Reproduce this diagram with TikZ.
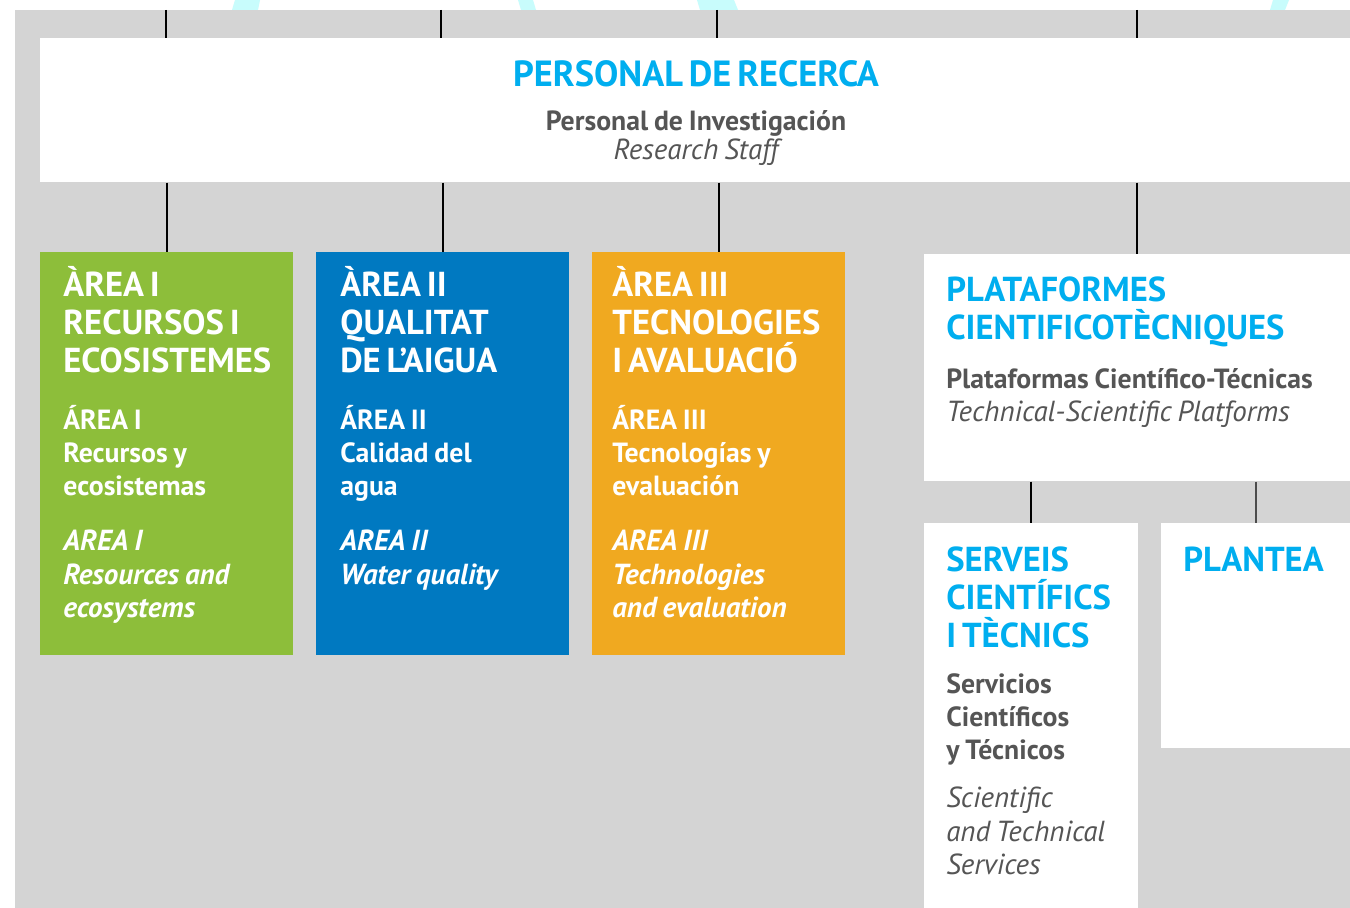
\documentclass[tikz,border=0pt]{standalone}
\usepackage{fontspec}
\setmainfont{PT Sans}
\usepackage{tikz}
\usetikzlibrary{positioning}

\definecolor{fonsgris}{HTML}{D4D4D4}
\definecolor{verdarea}{HTML}{8DBE3A}
\definecolor{blauarea}{HTML}{0079C1}
\definecolor{taronjarea}{HTML}{F0A920}
\definecolor{cian}{HTML}{00AEEF}
\definecolor{cianpal}{HTML}{C8FCFC}
\definecolor{textgris}{HTML}{555555}

\newcommand{\titolfont}{\fontsize{20.7}{22}\selectfont\bfseries}
\newcommand{\capfont}{\fontsize{19.7}{21.5}\selectfont\bfseries}
\newcommand{\subfont}{\fontsize{15.8}{18.7}\selectfont\bfseries}
\newcommand{\engfont}{\fontsize{16.5}{19.2}\selectfont\bfseries\itshape}
\newcommand{\itfont}{\fontsize{16.5}{19}\selectfont\itshape}

\begin{document}
\begin{tikzpicture}[x=0.02cm, y=-0.02cm,
  areabox/.style={rectangle, inner sep=0pt, anchor=north west, minimum width=5.06cm, minimum height=8.06cm},
  whitebox/.style={rectangle, fill=white, inner sep=0pt, anchor=north west},
  boxtext/.style={anchor=base west, inner sep=0pt, text width=#1, align=left},
  link/.style={line width=1pt, black}]
\useasboundingbox (0,0) rectangle (1350,908);
% Fons
\fill[white] (0,0) rectangle (1350,908);
\fill[cianpal] (235,0) -- (260,0) -- (258,10) -- (232,10) -- cycle;
\fill[cianpal] (518,0) -- (533,0) -- (536,10) -- (521,10) -- cycle;
\fill[cianpal] (697,0) -- (734,0) -- (738,10) -- (700,10) -- cycle;
\fill[cianpal] (1273,0) -- (1289,0) -- (1285,10) -- (1270,10) -- cycle;
\fill[fonsgris] (15,10) rectangle (1350,908);

% Personal de recerca
\node[whitebox, minimum width=26.2cm, minimum height=2.88cm] (banner) at (40,38) {};
\node[anchor=base, inner sep=0pt, text width=9cm, align=center] (bannertext) at (696,87)
  {{\titolfont\color{cian} PERSONAL DE RECERCA\par}\vspace{6.2pt}
   {\subfont\color{textgris} Personal de Investigación\par}
   {\fontsize{16.5}{16.4}\selectfont\itshape\color{textgris} Research Staff\par}};

% Arees
\node[areabox, fill=verdarea] (area1) at (40,252) {};
\node[areabox, fill=blauarea] (area2) at (316,252) {};
\node[areabox, fill=taronjarea] (area3) at (592,252) {};
\node[boxtext=4.6cm, text=white] (area1text) at (63,297)
  {{\capfont ÀREA I\\RECURSOS I\\ECOSISTEMES\par}\vspace{14pt}
   {\subfont ÁREA I\\Recursos y\\ecosistemas\par}\vspace{12pt}
   {\engfont AREA I\\Resources and\\ecosystems\par}};
\node[boxtext=4.6cm, text=white] (area2text) at (340,297)
  {{\capfont ÀREA II\\QUALITAT\\DE L’AIGUA\par}\vspace{14pt}
   {\subfont ÁREA II\\Calidad del\\agua\par}\vspace{12pt}
   {\engfont AREA II\\Water quality\par}};
\node[boxtext=4.6cm, text=white] (area3text) at (612,297)
  {{\capfont ÀREA III\\TECNOLOGIES\\I AVALUACIÓ\par}\vspace{14pt}
   {\subfont ÁREA III\\Tecnologías y\\evaluación\par}\vspace{12pt}
   {\engfont AREA III\\Technologies\\and evaluation\par}};

% Plataformes
\node[whitebox, minimum width=8.52cm, minimum height=4.54cm] (plataformes) at (924,254) {};
\node[boxtext=8cm] (plataformestext) at (946,302)
  {{\capfont\color{cian} PLATAFORMES\\CIENTIFICOTÈCNIQUES\par}\vspace{9.3pt}
   {\subfont\color{textgris} Plataformas Científico-Técnicas\par}
   {\fontsize{16.5}{18.6}\selectfont\itshape\color{textgris} Technical-Scientific Platforms\par}};
\node[whitebox, minimum width=4.28cm, minimum height=7.7cm] (serveis) at (924,523) {};
\node[boxtext=3.9cm] (serveistext) at (946,572)
  {{\capfont\color{cian} SERVEIS\\CIENTÍFICS\\I TÈCNICS\par}\vspace{7.6pt}
   {\subfont\color{textgris} Servicios\\Científicos\\y Técnicos\par}\vspace{8.6pt}
   {\itfont\color{textgris} Scientific\\and Technical\\Services\par}};
\node[whitebox, minimum width=3.78cm, minimum height=4.5cm] (plantea) at (1161,523) {};
\node[boxtext=3.4cm] (planteatext) at (1183,572) {\capfont\color{cian} PLANTEA};

% Linies
\foreach \xt/\n in {166/1,441/2,717/3,1137/4}
  \coordinate (dalt\n) at (\xt,10);
\foreach \n in {1,...,4}
  \draw[link] (dalt\n) -- (dalt\n |- banner.north);
\foreach \b in {area1,area2,area3,plataformes}
  \draw[link] (\b.north |- banner.south) -- (\b.north);
\draw[link] (serveis.north |- plataformes.south) -- (serveis.north);
\draw[link, gray!60!black] (plantea.north |- plataformes.south) -- (plantea.north);
\end{tikzpicture}
\end{document}
